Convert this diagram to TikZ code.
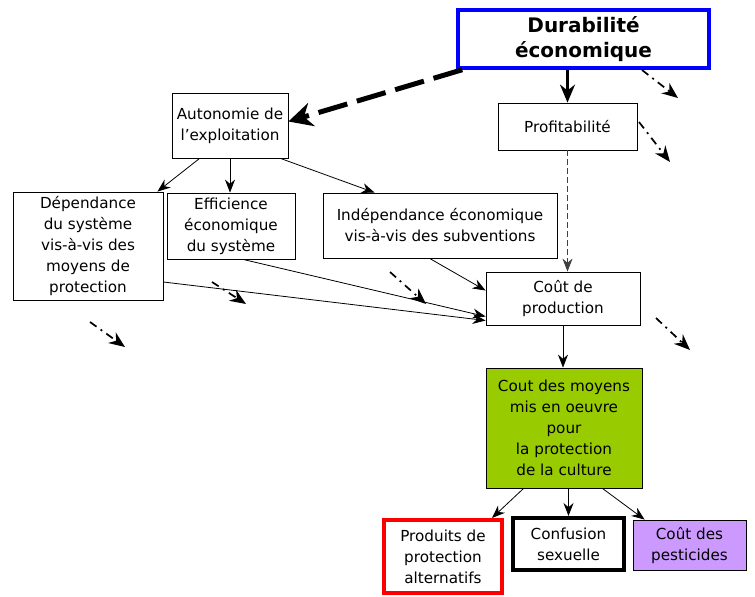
\documentclass[tikz,border=0pt]{standalone}
\usepackage{fontspec}
\setmainfont{DejaVu Sans}
\usetikzlibrary{arrows.meta}
\definecolor{vert}{HTML}{99CC00}
\definecolor{lav}{HTML}{CC99FF}
\begin{document}
\begin{tikzpicture}[x=1pt,y=-1pt,
  box/.style={draw, line width=0.8pt, align=center, inner sep=0pt, text=black,
    font=\fontsize{15.2}{21}\selectfont},
  conn/.style={line width=0.8pt, -{Stealth[length=13pt,width=10pt]}},
  dd/.style={line width=1.7pt, dash pattern=on 8pt off 5pt on 2pt off 5pt,
    -{Stealth[length=16pt,width=13pt]}},
  thickdash/.style={line width=5pt, dash pattern=on 30pt off 10pt,
    -{Stealth[length=24pt,width=24pt]}},
  thickarr/.style={line width=2.5pt, -{Stealth[length=18pt,width=15pt]}}]
\useasboundingbox (0,0) rectangle (755,597);

\node[box, draw=blue, line width=3.5pt, minimum width=251pt, minimum height=58pt,
  font=\fontsize{20}{25}\selectfont\bfseries] (dur) at (583.5,39) {Durabilité\\économique};
\node[box, minimum width=116pt, minimum height=65pt] (auto) at (230,125.5) {Autonomie de\\l'exploitation};
\node[box, minimum width=139pt, minimum height=47pt] (prof) at (567.5,126.5) {Profitabilité};
\node[box, minimum width=150pt, minimum height=108pt] (dep) at (88,246) {Dépendance\\du système\\vis-à-vis des\\moyens de\\protection};
\node[box, minimum width=128pt, minimum height=66pt] (eff) at (231,226) {Efficience\\économique\\du système};
\node[box, minimum width=234pt, minimum height=65pt] (ind) at (440,225.5) {Indépendance économique\\vis-à-vis des subventions};
\node[box, minimum width=154pt, minimum height=53pt] (cout) at (563,298.5) {Coût de\\production};
\node[box, fill=vert, minimum width=156pt, minimum height=120pt] (green) at (564,428) {Cout des moyens\\mis en oeuvre\\pour\\la protection\\de la culture};
\node[box, draw=red, line width=4pt, minimum width=118pt, minimum height=73pt] (prod) at (443,556.5) {Produits de\\protection\\alternatifs};
\node[box, line width=4pt, minimum width=111pt, minimum height=52pt] (conf) at (568.5,544) {Confusion\\sexuelle};
\node[box, fill=lav, minimum width=113pt, minimum height=50pt] (pest) at (689.5,545) {Coût des\\pesticides};

% main connectors
\draw[thickdash] ([xshift=6pt]dur.south west) -- ([yshift=4pt]auto.east);
\draw[thickarr] (dur.south -| prof.north) -- (prof.north);
\draw[conn] ([xshift=28pt]auto.south west) -- ([xshift=-6pt]dep.north east);
\draw[conn] (auto.south) -- (auto.south |- eff.north);
\draw[conn] ([xshift=-8pt]auto.south east) -- ([xshift=52pt]ind.north west);
\draw[line width=0.8pt, draw=black!75, dash pattern=on 6pt off 3pt, -{Stealth[length=13pt,width=10pt]}] (prof.south) -- (prof.south |- cout.north);
\draw[conn] ([xshift=107pt]ind.south west) -- ([yshift=8pt]cout.west);
\draw[conn] ([xshift=12pt]eff.south) -- ([yshift=-18pt]cout.west);
\draw[conn] ([yshift=-36pt]dep.east) -- ([yshift=-22pt]cout.west);
\draw[conn] (cout.south) -- (cout.south |- green.north);
\draw[conn] ([xshift=38pt]green.south west) -- ([xshift=-12pt]prod.north east);
\draw[conn] (green.south -| conf.north) -- (conf.north);
\draw[conn] ([xshift=-40pt]green.south east) -- ([xshift=12pt]pest.north west);

% free dash-dot arrows
\coordinate (f5a) at (642,70);  \coordinate (f5b) at (678,98);
\coordinate (f6a) at (639,122); \coordinate (f6b) at (670,162);
\coordinate (f1a) at (212,282); \coordinate (f1b) at (246,304);
\coordinate (f2a) at (390,272); \coordinate (f2b) at (426,304);
\coordinate (f3a) at (90,322);  \coordinate (f3b) at (125,347);
\coordinate (f4a) at (656,318); \coordinate (f4b) at (690,350);
\draw[dd] (f5a) -- (f5b);
\draw[dd] (f6a) -- (f6b);
\draw[dd] (f1a) -- (f1b);
\draw[dd] (f2a) -- (f2b);
\draw[dd] (f3a) -- (f3b);
\draw[dd] (f4a) -- (f4b);
\end{tikzpicture}
\end{document}
